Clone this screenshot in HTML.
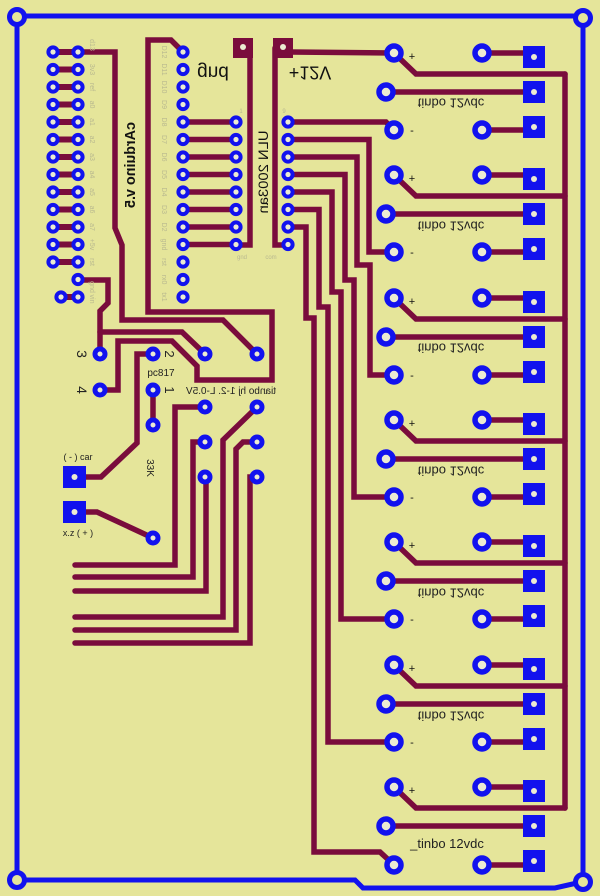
<!DOCTYPE html>
<html><head><meta charset="utf-8"><style>
html,body{margin:0;padding:0;background:#e5e59a;}
svg{display:block}
text{font-family:"Liberation Sans",sans-serif;}
.t{fill:none;stroke:#7a0c3c;stroke-width:5.5;stroke-linejoin:miter;stroke-linecap:round}
.th{fill:none;stroke:#7a0c3c;stroke-width:6;stroke-linecap:round}
.sp{fill:#ecebd2;stroke:#1212ee;stroke-width:4}
.mp{fill:#ecebd2;stroke:#1212ee;stroke-width:5}
.bp{fill:#ecebd2;stroke:#1212ee;stroke-width:5.5}
.sq{fill:#1212ee}
.hole{fill:#ecebd2}
.fl{fill:#b9b98f;font-size:7px}
</style></head><body>
<svg width="600" height="896" viewBox="0 0 600 896" xmlns="http://www.w3.org/2000/svg">
<rect width="600" height="896" fill="#e5e59a"/>

<!-- blue board outline -->
<g fill="none" stroke="#1212ee" stroke-width="5" stroke-linejoin="miter">
<polyline points="17,17 17,880"/>
<polyline points="17,16 583,16"/>
<polyline points="583,18 583,882"/>
<polyline points="17,880 355,880 363,888 555,888 577,883 583,882"/>
</g>
<g fill="#e5e59a" stroke="#1212ee" stroke-width="5">
<circle cx="17" cy="17" r="7.5"/>
<circle cx="583" cy="18" r="7.5"/>
<circle cx="17" cy="880" r="7.5"/>
<circle cx="583" cy="882" r="7.5"/>
</g>

<!-- maroon traces -->
<g class="t">
<!-- header pair traces -->
<line class="th" x1="53" y1="52" x2="78" y2="52"/>
<line class="th" x1="53" y1="69.5" x2="78" y2="69.5"/>
<line class="th" x1="53" y1="87" x2="78" y2="87"/>
<line class="th" x1="53" y1="104.5" x2="78" y2="104.5"/>
<line class="th" x1="53" y1="122" x2="78" y2="122"/>
<line class="th" x1="53" y1="139.5" x2="78" y2="139.5"/>
<line class="th" x1="53" y1="157" x2="78" y2="157"/>
<line class="th" x1="53" y1="174.5" x2="78" y2="174.5"/>
<line class="th" x1="53" y1="192" x2="78" y2="192"/>
<line class="th" x1="53" y1="209.5" x2="78" y2="209.5"/>
<line class="th" x1="53" y1="227" x2="78" y2="227"/>
<line class="th" x1="53" y1="244.5" x2="78" y2="244.5"/>
<line class="th" x1="53" y1="262" x2="78" y2="262"/>
<line class="th" x1="61" y1="297" x2="78" y2="297"/>

<!-- arduino to ULN -->
<line x1="183" y1="122" x2="236" y2="122"/>
<line x1="183" y1="139.5" x2="236" y2="139.5"/>
<line x1="183" y1="157" x2="236" y2="157"/>
<line x1="183" y1="174.5" x2="236" y2="174.5"/>
<line x1="183" y1="192" x2="236" y2="192"/>
<line x1="183" y1="209.5" x2="236" y2="209.5"/>
<line x1="183" y1="227" x2="236" y2="227"/>
<line x1="183" y1="244.5" x2="236" y2="244.5"/>

<!-- gnd / +12 pads to ULN -->
<polyline points="250,48 250,245 236,245"/>
<polyline points="275,48 275,245 288,245"/>
<polyline points="290,52 394,53"/>

<!-- ULN outputs to relay minus pins -->
<polyline points="288,122 386,122 394,130"/>
<polyline points="288,139.5 369,139.5 369,252 394,252"/>
<polyline points="288,157 357,157 357,265 370,265 370,375 394,375"/>
<polyline points="288,174.5 345,174.5 345,280 354,280 354,497 394,497"/>
<polyline points="288,192 332,192 332,292 341,292 341,619 394,619"/>
<polyline points="288,209.5 319,209.5 319,307 328,307 328,742 394,742"/>
<polyline points="288,227 306,227 306,318 314,318 314,852 380,852 394,865"/>

<!-- relay plus bus -->
<line x1="565" y1="74" x2="565" y2="808"/>

<!-- relay groups -->
<polyline points="394,53 416,74 565,74"/>
<line x1="482" y1="53" x2="530" y2="53"/>
<line x1="386" y1="92" x2="530" y2="92"/>
<line x1="482" y1="130" x2="530" y2="130"/>

<polyline points="394,175 416,196 565,196"/>
<line x1="482" y1="175" x2="530" y2="175"/>
<line x1="386" y1="214" x2="530" y2="214"/>
<line x1="482" y1="252" x2="530" y2="252"/>

<polyline points="394,298 416,319 565,319"/>
<line x1="482" y1="298" x2="530" y2="298"/>
<line x1="386" y1="337" x2="530" y2="337"/>
<line x1="482" y1="375" x2="530" y2="375"/>

<polyline points="394,420 416,441 565,441"/>
<line x1="482" y1="420" x2="530" y2="420"/>
<line x1="386" y1="459" x2="530" y2="459"/>
<line x1="482" y1="497" x2="530" y2="497"/>

<polyline points="394,542 416,563 565,563"/>
<line x1="482" y1="542" x2="530" y2="542"/>
<line x1="386" y1="581" x2="530" y2="581"/>
<line x1="482" y1="619" x2="530" y2="619"/>

<polyline points="394,665 416,686 565,686"/>
<line x1="482" y1="665" x2="530" y2="665"/>
<line x1="386" y1="704" x2="530" y2="704"/>
<line x1="482" y1="742" x2="530" y2="742"/>

<polyline points="394,787 416,808 565,808"/>
<line x1="482" y1="787" x2="530" y2="787"/>
<line x1="386" y1="826" x2="530" y2="826"/>
<line x1="482" y1="865" x2="530" y2="865"/>

<!-- arduino / header routing -->
<polyline points="78,52 115,52 115,228 122,245 122,320 223,320 257,354"/>
<polyline points="183,52 171,40 148,40 148,312 272,312 272,380 197,380 197,366 172,341 118,341 118,390 100,390"/>
<polyline points="78,280 108,280 108,303 100,311 100,354"/>
<polyline points="100,332 182,332 205,354"/>

<!-- opto / resistor / pads -->
<polyline points="153,354 137,354 137,443 101,477 80,477"/>
<line x1="153" y1="390" x2="153" y2="425"/>
<polyline points="80,512 97,512 153,538"/>

<!-- small relay to bottom-left bus -->
<polyline points="205,407 175,407 175,565 75,565"/>
<polyline points="205,442 193,442 193,577 75,577"/>
<polyline points="205,477 206,477 206,591 75,591"/>
<polyline points="257,407 223,440 223,617 75,617"/>
<polyline points="257,442 243,442 236,449 236,630 75,630"/>
<polyline points="257,477 250,477 250,643 75,643"/>
</g>

<!-- maroon pads gnd / +12V -->
<rect x="233" y="38" width="20" height="20" fill="#7a0c3c"/>
<circle cx="243" cy="47" r="3" class="hole"/>
<rect x="273" y="38" width="20" height="20" fill="#7a0c3c"/>
<circle cx="283" cy="47" r="3" class="hole"/>

<!-- header pins -->
<g>
<circle class="sp" cx="53" cy="52" r="4.6"/><circle class="sp" cx="78" cy="52" r="4.6"/>
<circle class="sp" cx="53" cy="69.5" r="4.6"/><circle class="sp" cx="78" cy="69.5" r="4.6"/>
<circle class="sp" cx="53" cy="87" r="4.6"/><circle class="sp" cx="78" cy="87" r="4.6"/>
<circle class="sp" cx="53" cy="104.5" r="4.6"/><circle class="sp" cx="78" cy="104.5" r="4.6"/>
<circle class="sp" cx="53" cy="122" r="4.6"/><circle class="sp" cx="78" cy="122" r="4.6"/>
<circle class="sp" cx="53" cy="139.5" r="4.6"/><circle class="sp" cx="78" cy="139.5" r="4.6"/>
<circle class="sp" cx="53" cy="157" r="4.6"/><circle class="sp" cx="78" cy="157" r="4.6"/>
<circle class="sp" cx="53" cy="174.5" r="4.6"/><circle class="sp" cx="78" cy="174.5" r="4.6"/>
<circle class="sp" cx="53" cy="192" r="4.6"/><circle class="sp" cx="78" cy="192" r="4.6"/>
<circle class="sp" cx="53" cy="209.5" r="4.6"/><circle class="sp" cx="78" cy="209.5" r="4.6"/>
<circle class="sp" cx="53" cy="227" r="4.6"/><circle class="sp" cx="78" cy="227" r="4.6"/>
<circle class="sp" cx="53" cy="244.5" r="4.6"/><circle class="sp" cx="78" cy="244.5" r="4.6"/>
<circle class="sp" cx="53" cy="262" r="4.6"/><circle class="sp" cx="78" cy="262" r="4.6"/>
<circle class="sp" cx="78" cy="279.5" r="4.6"/>
<circle class="sp" cx="61" cy="297" r="4.6"/><circle class="sp" cx="78" cy="297" r="4.6"/>
</g>

<!-- arduino pins -->
<g>
<circle class="sp" cx="183" cy="52" r="4.6"/>
<circle class="sp" cx="183" cy="69.5" r="4.6"/>
<circle class="sp" cx="183" cy="87" r="4.6"/>
<circle class="sp" cx="183" cy="104.5" r="4.6"/>
<circle class="sp" cx="183" cy="122" r="4.6"/>
<circle class="sp" cx="183" cy="139.5" r="4.6"/>
<circle class="sp" cx="183" cy="157" r="4.6"/>
<circle class="sp" cx="183" cy="174.5" r="4.6"/>
<circle class="sp" cx="183" cy="192" r="4.6"/>
<circle class="sp" cx="183" cy="209.5" r="4.6"/>
<circle class="sp" cx="183" cy="227" r="4.6"/>
<circle class="sp" cx="183" cy="244.5" r="4.6"/>
<circle class="sp" cx="183" cy="262" r="4.6"/>
<circle class="sp" cx="183" cy="279.5" r="4.6"/>
<circle class="sp" cx="183" cy="297" r="4.6"/>
</g>

<!-- ULN pins -->
<g>
<circle class="sp" cx="236" cy="122" r="4.6"/><circle class="sp" cx="288" cy="122" r="4.6"/>
<circle class="sp" cx="236" cy="139.5" r="4.6"/><circle class="sp" cx="288" cy="139.5" r="4.6"/>
<circle class="sp" cx="236" cy="157" r="4.6"/><circle class="sp" cx="288" cy="157" r="4.6"/>
<circle class="sp" cx="236" cy="174.5" r="4.6"/><circle class="sp" cx="288" cy="174.5" r="4.6"/>
<circle class="sp" cx="236" cy="192" r="4.6"/><circle class="sp" cx="288" cy="192" r="4.6"/>
<circle class="sp" cx="236" cy="209.5" r="4.6"/><circle class="sp" cx="288" cy="209.5" r="4.6"/>
<circle class="sp" cx="236" cy="227" r="4.6"/><circle class="sp" cx="288" cy="227" r="4.6"/>
<circle class="sp" cx="236" cy="244.5" r="4.6"/><circle class="sp" cx="288" cy="244.5" r="4.6"/>
</g>

<!-- opto / relay small pins -->
<g>
<circle class="mp" cx="100" cy="354" r="5"/>
<circle class="mp" cx="100" cy="390" r="5"/>
<circle class="mp" cx="153" cy="354" r="5"/>
<circle class="mp" cx="153" cy="390" r="5"/>
<circle class="mp" cx="153" cy="425" r="5"/>
<circle class="mp" cx="153" cy="538" r="5"/>
<circle class="mp" cx="205" cy="354" r="5"/>
<circle class="mp" cx="257" cy="354" r="5"/>
<circle class="mp" cx="205" cy="407" r="5"/>
<circle class="mp" cx="205" cy="442" r="5"/>
<circle class="mp" cx="205" cy="477" r="5"/>
<circle class="mp" cx="257" cy="407" r="5"/>
<circle class="mp" cx="257" cy="442" r="5"/>
<circle class="mp" cx="257" cy="477" r="5"/>
</g>
<!-- left square pads -->
<rect class="sq" x="63" y="466" width="23" height="22"/>
<circle class="hole" cx="74.5" cy="477" r="3"/>
<rect class="sq" x="63" y="501" width="23" height="22"/>
<circle class="hole" cx="74.5" cy="512" r="3"/>

<!-- relay pins and squares -->
<g>
<circle class="bp" cx="394" cy="53" r="7"/><circle class="bp" cx="482" cy="53" r="7"/>
<circle class="bp" cx="386" cy="92" r="7"/>
<circle class="bp" cx="394" cy="130" r="7"/><circle class="bp" cx="482" cy="130" r="7"/>

<circle class="bp" cx="394" cy="175" r="7"/><circle class="bp" cx="482" cy="175" r="7"/>
<circle class="bp" cx="386" cy="214" r="7"/>
<circle class="bp" cx="394" cy="252" r="7"/><circle class="bp" cx="482" cy="252" r="7"/>

<circle class="bp" cx="394" cy="298" r="7"/><circle class="bp" cx="482" cy="298" r="7"/>
<circle class="bp" cx="386" cy="337" r="7"/>
<circle class="bp" cx="394" cy="375" r="7"/><circle class="bp" cx="482" cy="375" r="7"/>

<circle class="bp" cx="394" cy="420" r="7"/><circle class="bp" cx="482" cy="420" r="7"/>
<circle class="bp" cx="386" cy="459" r="7"/>
<circle class="bp" cx="394" cy="497" r="7"/><circle class="bp" cx="482" cy="497" r="7"/>

<circle class="bp" cx="394" cy="542" r="7"/><circle class="bp" cx="482" cy="542" r="7"/>
<circle class="bp" cx="386" cy="581" r="7"/>
<circle class="bp" cx="394" cy="619" r="7"/><circle class="bp" cx="482" cy="619" r="7"/>

<circle class="bp" cx="394" cy="665" r="7"/><circle class="bp" cx="482" cy="665" r="7"/>
<circle class="bp" cx="386" cy="704" r="7"/>
<circle class="bp" cx="394" cy="742" r="7"/><circle class="bp" cx="482" cy="742" r="7"/>

<circle class="bp" cx="394" cy="787" r="7"/><circle class="bp" cx="482" cy="787" r="7"/>
<circle class="bp" cx="386" cy="826" r="7"/>
<circle class="bp" cx="394" cy="865" r="7"/><circle class="bp" cx="482" cy="865" r="7"/>
</g>
<g>
<rect class="sq" x="523" y="46" width="22" height="22"/><circle class="hole" cx="534" cy="57" r="3"/>
<rect class="sq" x="523" y="81" width="22" height="22"/><circle class="hole" cx="534" cy="92" r="3"/>
<rect class="sq" x="523" y="116" width="22" height="22"/><circle class="hole" cx="534" cy="127" r="3"/>

<rect class="sq" x="523" y="168" width="22" height="22"/><circle class="hole" cx="534" cy="179" r="3"/>
<rect class="sq" x="523" y="203" width="22" height="22"/><circle class="hole" cx="534" cy="214" r="3"/>
<rect class="sq" x="523" y="238" width="22" height="22"/><circle class="hole" cx="534" cy="249" r="3"/>

<rect class="sq" x="523" y="291" width="22" height="22"/><circle class="hole" cx="534" cy="302" r="3"/>
<rect class="sq" x="523" y="326" width="22" height="22"/><circle class="hole" cx="534" cy="337" r="3"/>
<rect class="sq" x="523" y="361" width="22" height="22"/><circle class="hole" cx="534" cy="372" r="3"/>

<rect class="sq" x="523" y="413" width="22" height="22"/><circle class="hole" cx="534" cy="424" r="3"/>
<rect class="sq" x="523" y="448" width="22" height="22"/><circle class="hole" cx="534" cy="459" r="3"/>
<rect class="sq" x="523" y="483" width="22" height="22"/><circle class="hole" cx="534" cy="494" r="3"/>

<rect class="sq" x="523" y="535" width="22" height="22"/><circle class="hole" cx="534" cy="546" r="3"/>
<rect class="sq" x="523" y="570" width="22" height="22"/><circle class="hole" cx="534" cy="581" r="3"/>
<rect class="sq" x="523" y="605" width="22" height="22"/><circle class="hole" cx="534" cy="616" r="3"/>

<rect class="sq" x="523" y="658" width="22" height="22"/><circle class="hole" cx="534" cy="669" r="3"/>
<rect class="sq" x="523" y="693" width="22" height="22"/><circle class="hole" cx="534" cy="704" r="3"/>
<rect class="sq" x="523" y="728" width="22" height="22"/><circle class="hole" cx="534" cy="739" r="3"/>

<rect class="sq" x="523" y="780" width="22" height="22"/><circle class="hole" cx="534" cy="791" r="3"/>
<rect class="sq" x="523" y="815" width="22" height="22"/><circle class="hole" cx="534" cy="826" r="3"/>
<rect class="sq" x="523" y="850" width="22" height="22"/><circle class="hole" cx="534" cy="861" r="3"/>
</g>

<!-- relay labels -->
<g font-size="11" fill="#111">
<text x="412" y="60" text-anchor="middle">+</text><text x="412" y="134" text-anchor="middle">-</text>
<text x="412" y="182" text-anchor="middle">+</text><text x="412" y="256" text-anchor="middle">-</text>
<text x="412" y="305" text-anchor="middle">+</text><text x="412" y="379" text-anchor="middle">-</text>
<text x="412" y="427" text-anchor="middle">+</text><text x="412" y="501" text-anchor="middle">-</text>
<text x="412" y="549" text-anchor="middle">+</text><text x="412" y="623" text-anchor="middle">-</text>
<text x="412" y="672" text-anchor="middle">+</text><text x="412" y="746" text-anchor="middle">-</text>
<text x="412" y="794" text-anchor="middle">+</text>
</g>
<g font-size="13" fill="#222">
<g transform="translate(451,103) scale(1,-1)"><text x="0" y="4.5" text-anchor="middle">tinbo 12vdc</text></g>
<g transform="translate(451,226) scale(1,-1)"><text x="0" y="4.5" text-anchor="middle">tinbo 12vdc</text></g>
<g transform="translate(451,348) scale(1,-1)"><text x="0" y="4.5" text-anchor="middle">tinbo 12vdc</text></g>
<g transform="translate(451,471) scale(1,-1)"><text x="0" y="4.5" text-anchor="middle">tinbo 12vdc</text></g>
<g transform="translate(451,593) scale(1,-1)"><text x="0" y="4.5" text-anchor="middle">tinbo 12vdc</text></g>
<g transform="translate(451,716) scale(1,-1)"><text x="0" y="4.5" text-anchor="middle">tinbo 12vdc</text></g>
<text x="447" y="848" text-anchor="middle">_tinbo 12vdc</text>
</g>

<!-- big labels -->
<g transform="translate(213,73) scale(1,-1)"><text x="0" y="6.5" font-size="19" text-anchor="middle" fill="#111">gnd</text></g>
<g transform="translate(310,73) scale(1,-1)"><text x="0" y="6.5" font-size="18" text-anchor="middle" fill="#111">+12V</text></g>
<g transform="translate(130,165) rotate(90) scale(1,-1)"><text x="0" y="5" font-size="15" font-weight="bold" text-anchor="middle" textLength="86" lengthAdjust="spacingAndGlyphs" fill="#111">cArduino v.5</text></g>
<g transform="translate(263,172) rotate(90) scale(1,-1)"><text x="0" y="5" font-size="14" text-anchor="middle" textLength="83" lengthAdjust="spacingAndGlyphs" fill="#111">ULN 2003an</text></g>

<!-- opto labels -->
<g fill="#222">
<g transform="translate(82,354) rotate(90)"><text x="0" y="5" font-size="14" text-anchor="middle">3</text></g>
<g transform="translate(82,390) rotate(90)"><text x="0" y="5" font-size="14" text-anchor="middle">4</text></g>
<g transform="translate(170,354) rotate(90)"><text x="0" y="5" font-size="13" text-anchor="middle">2</text></g>
<g transform="translate(170,390) rotate(90)"><text x="0" y="5" font-size="13" text-anchor="middle">1</text></g>
<text x="161" y="376" font-size="10" text-anchor="middle">pc817</text>
<g transform="translate(231,390) scale(-1,1)"><text x="0" y="4" font-size="10.5" text-anchor="middle" textLength="90" lengthAdjust="spacingAndGlyphs">tianbo hj 1-2. L-0.5V</text></g>
<text x="78" y="460" font-size="9" text-anchor="middle">( - ) car</text>
<text x="78" y="536" font-size="9" text-anchor="middle">x.z ( + )</text>
<g transform="translate(151,468) rotate(90)"><text x="0" y="4" font-size="10" text-anchor="middle">33K</text></g>
</g>

<!-- faint silkscreen labels -->
<g class="fl">
<g transform="translate(92,45) rotate(90)"><text x="0" y="2" text-anchor="middle">d13</text></g>
<g transform="translate(92,69.5) rotate(90)"><text x="0" y="2" text-anchor="middle">3v3</text></g>
<g transform="translate(92,87) rotate(90)"><text x="0" y="2" text-anchor="middle">ref</text></g>
<g transform="translate(92,104.5) rotate(90)"><text x="0" y="2" text-anchor="middle">a0</text></g>
<g transform="translate(92,122) rotate(90)"><text x="0" y="2" text-anchor="middle">a1</text></g>
<g transform="translate(92,139.5) rotate(90)"><text x="0" y="2" text-anchor="middle">a2</text></g>
<g transform="translate(92,157) rotate(90)"><text x="0" y="2" text-anchor="middle">a3</text></g>
<g transform="translate(92,174.5) rotate(90)"><text x="0" y="2" text-anchor="middle">a4</text></g>
<g transform="translate(92,192) rotate(90)"><text x="0" y="2" text-anchor="middle">a5</text></g>
<g transform="translate(92,209.5) rotate(90)"><text x="0" y="2" text-anchor="middle">a6</text></g>
<g transform="translate(92,227) rotate(90)"><text x="0" y="2" text-anchor="middle">a7</text></g>
<g transform="translate(92,244.5) rotate(90)"><text x="0" y="2" text-anchor="middle">+5v</text></g>
<g transform="translate(92,262) rotate(90)"><text x="0" y="2" text-anchor="middle">rst</text></g>
<g transform="translate(92,287) rotate(90)"><text x="0" y="2" text-anchor="middle">gnd</text></g>
<g transform="translate(92,299) rotate(90)"><text x="0" y="2" text-anchor="middle">vin</text></g>

<g transform="translate(164,52) rotate(90)"><text x="0" y="2" text-anchor="middle">D12</text></g>
<g transform="translate(164,69.5) rotate(90)"><text x="0" y="2" text-anchor="middle">D11</text></g>
<g transform="translate(164,87) rotate(90)"><text x="0" y="2" text-anchor="middle">D10</text></g>
<g transform="translate(164,104.5) rotate(90)"><text x="0" y="2" text-anchor="middle">D9</text></g>
<g transform="translate(164,122) rotate(90)"><text x="0" y="2" text-anchor="middle">D8</text></g>
<g transform="translate(164,139.5) rotate(90)"><text x="0" y="2" text-anchor="middle">D7</text></g>
<g transform="translate(164,157) rotate(90)"><text x="0" y="2" text-anchor="middle">D6</text></g>
<g transform="translate(164,174.5) rotate(90)"><text x="0" y="2" text-anchor="middle">D5</text></g>
<g transform="translate(164,192) rotate(90)"><text x="0" y="2" text-anchor="middle">D4</text></g>
<g transform="translate(164,209.5) rotate(90)"><text x="0" y="2" text-anchor="middle">D3</text></g>
<g transform="translate(164,227) rotate(90)"><text x="0" y="2" text-anchor="middle">D2</text></g>
<g transform="translate(164,244.5) rotate(90)"><text x="0" y="2" text-anchor="middle">gnd</text></g>
<g transform="translate(164,262) rotate(90)"><text x="0" y="2" text-anchor="middle">rst</text></g>
<g transform="translate(164,279.5) rotate(90)"><text x="0" y="2" text-anchor="middle">rx0</text></g>
<g transform="translate(164,297) rotate(90)"><text x="0" y="2" text-anchor="middle">tx1</text></g>

<text x="241" y="113" font-size="6" text-anchor="middle">1</text>
<text x="284" y="113" font-size="6" text-anchor="middle">9</text>
<text x="242" y="259" font-size="6" text-anchor="middle">gnd</text>
<text x="271" y="259" font-size="6" text-anchor="middle">com</text>
</g>
</svg>
</body></html>
